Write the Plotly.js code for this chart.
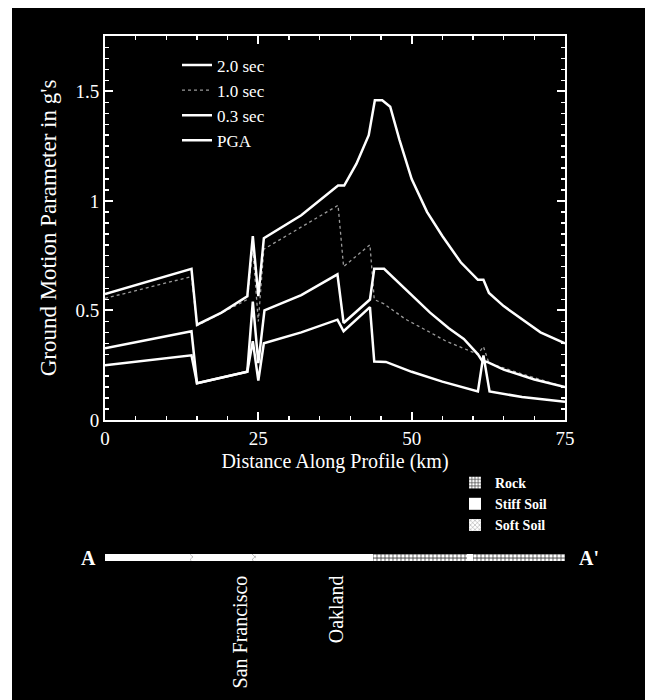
<!DOCTYPE html>
<html><head><meta charset="utf-8">
<script src="https://cdn.plot.ly/plotly-3.0.1.min.js"></script>
<style>
html,body{margin:0;padding:0;background:#fff;width:651px;height:700px;overflow:hidden}
#chart{position:absolute;left:12px;top:8px;width:633px;height:692px}
</style></head><body><div id="chart"></div>
<script>
// ---- data ----
const seriesNames = ['2.0 sec', '1.0 sec', '0.3 sec', 'PGA'];

const x20 = [0, 14.1, 15.0, 23.2, 24.1, 25.0, 25.9, 32, 37.9, 38.9, 43.2, 43.9, 45.8, 50, 55, 60.8, 61.7, 62.7, 68, 75];
const y20 = [0.25, 0.295, 0.168, 0.22, 0.36, 0.18, 0.35, 0.40, 0.458, 0.405, 0.515, 0.267, 0.265, 0.22, 0.175, 0.13, 0.295, 0.13, 0.105, 0.083];

const x10 = [0, 14.1, 15.0, 23.2, 24.1, 25.0, 25.9, 38.0, 38.9, 43.2, 43.9, 45.5, 47, 49, 53, 55.6, 60.8, 61.7, 62.6, 68, 75];
const y10 = [0.555, 0.655, 0.43, 0.55, 0.78, 0.45, 0.78, 0.98, 0.70, 0.80, 0.55, 0.53, 0.50, 0.46, 0.40, 0.36, 0.30, 0.335, 0.26, 0.21, 0.15];

const x03 = [0, 14.1, 15.0, 19, 23.2, 24.1, 25.0, 25.9, 32, 38.0, 39.0, 41.0, 43.0, 44.0, 45.2, 46.5, 48, 50, 52.5, 55, 58, 60.8, 61.7, 62.6, 65, 68, 71, 75];
const y03 = [0.575, 0.69, 0.435, 0.49, 0.565, 0.84, 0.565, 0.83, 0.935, 1.07, 1.07, 1.17, 1.30, 1.46, 1.46, 1.43, 1.28, 1.10, 0.95, 0.84, 0.72, 0.64, 0.64, 0.58, 0.52, 0.46, 0.40, 0.35];

const xPGA = [0, 14.1, 15.0, 23.2, 24.1, 25.0, 26.0, 32, 37.9, 38.9, 43.2, 43.9, 45.5, 47, 50, 53, 56, 58.5, 60.8, 61.5, 62.3, 65, 70, 75];
const yPGA = [0.328, 0.405, 0.168, 0.22, 0.54, 0.26, 0.50, 0.57, 0.665, 0.443, 0.55, 0.69, 0.69, 0.65, 0.57, 0.49, 0.42, 0.37, 0.30, 0.27, 0.265, 0.23, 0.185, 0.15];

const xTicks = [0, 25, 50, 75];
const yTicks = [0, 0.5, 1, 1.5];
const yTickText = ['0', '0.5', '1', '1.5'];

// soil profile along A-A' (km start, km length)
const soilTypes = ['Rock', 'Stiff Soil', 'Soft Soil'];
const rockStart = [43.7, 60];
const rockLen = [15.3, 15];
const stiffStart = [0, 14.4, 24.7, 59];
const stiffLen = [13.9, 9.5, 19.0, 1];
const softStart = [13.9, 23.9];
const softLen = [0.5, 0.8];

const cityNames = ['San Francisco', 'Oakland'];
const cityKm = [22.0, 37.7];
const profileEnds = ['A', "A'"];

// ---- chart ----
const SERIF = 'Liberation Serif, Times New Roman, serif';
const W = 'white';

const traces = [
  {x: x20, y: y20, name: seriesNames[0], mode: 'lines', line: {color: W, width: 2.5}},
  {x: x10, y: y10, name: seriesNames[1], mode: 'lines', line: {color: '#9a9a9a', width: 1.3, dash: 'dot'}},
  {x: x03, y: y03, name: seriesNames[2], mode: 'lines', line: {color: W, width: 2.5}},
  {x: xPGA, y: yPGA, name: seriesNames[3], mode: 'lines', line: {color: W, width: 2.5}},
  {type: 'bar', orientation: 'h', name: soilTypes[0], legend: 'legend2', xaxis: 'x2', yaxis: 'y2',
   y: rockStart.map(() => 0), x: rockLen, base: rockStart, width: 1,
   marker: {color: '#8a8a8a', line: {width: 0}, pattern: {shape: '.', fgcolor: '#ffffff', bgcolor: '#7a7a7a', size: 4, solidity: 0.5}}},
  {type: 'bar', orientation: 'h', name: soilTypes[1], legend: 'legend2', xaxis: 'x2', yaxis: 'y2',
   y: stiffStart.map(() => 0), x: stiffLen, base: stiffStart, width: 1,
   marker: {color: '#ffffff', line: {width: 0}}},
  {type: 'bar', orientation: 'h', name: soilTypes[2], legend: 'legend2', xaxis: 'x2', yaxis: 'y2',
   y: softStart.map(() => 0), x: softLen, base: softStart, width: 1,
   marker: {color: '#ffffff', line: {width: 0}, pattern: {shape: 'x', fgcolor: '#666666', bgcolor: '#ffffff', size: 4, solidity: 0.2}}}
];

const f = py => (600 - py) / 564;   // page y -> paper fraction
const fx = px => (px - 105) / 460;  // page x -> paper fraction

const axisCommon = {
  showgrid: false, zeroline: false, showline: true, linecolor: W, linewidth: 2,
  mirror: 'ticks', ticks: 'inside', ticklen: 8, tickwidth: 2, tickcolor: W,
  tickfont: {family: SERIF, size: 19, color: W}
};

const layout = {
  width: 633, height: 692,
  paper_bgcolor: 'black', plot_bgcolor: 'black',
  margin: {l: 93, r: 80, t: 28, b: 100},
  showlegend: true,
  barmode: 'overlay', bargap: 0,
  font: {family: SERIF, color: W},
  xaxis: Object.assign({}, axisCommon, {
    domain: [0, 1], range: [0, 75], anchor: 'y', tickvals: xTicks,
    minor: {dtick: 5, ticks: 'inside', ticklen: 4, tickwidth: 1.5, tickcolor: W},
    title: {text: 'Distance Along Profile (km)', font: {family: SERIF, size: 20, color: W}, standoff: 6}
  }),
  yaxis: Object.assign({}, axisCommon, {
    domain: [f(420), 1], range: [0, 1.753], anchor: 'x', tickvals: yTicks, ticktext: yTickText,
    minor: {dtick: 0.05, ticks: 'inside', ticklen: 4, tickwidth: 1.5, tickcolor: W},
    title: {text: "Ground Motion Parameter in g's", font: {family: SERIF, size: 23, color: W}, standoff: 12}
  }),
  xaxis2: {domain: [0, 1], range: [0, 75], anchor: 'y2', visible: false, fixedrange: true},
  yaxis2: {domain: [f(561), f(554)], range: [-0.5, 0.5], anchor: 'x2', visible: false, fixedrange: true},
  legend: {x: fx(177), xanchor: 'left', y: f(103), yanchor: 'middle',
           bgcolor: 'rgba(0,0,0,0)', font: {family: SERIF, size: 17, color: W}},
  legend2: {x: fx(455), xanchor: 'left', y: f(504), yanchor: 'middle',
            bgcolor: 'rgba(0,0,0,0)', font: {family: SERIF, size: 14, color: W, weight: 'bold'}},
  annotations: [
    {text: profileEnds[0], xref: 'paper', yref: 'paper', x: fx(88), y: f(558), xanchor: 'center', yanchor: 'middle',
     showarrow: false, font: {family: SERIF, size: 20, color: W, weight: 'bold'}},
    {text: profileEnds[1], xref: 'paper', yref: 'paper', x: fx(589), y: f(558), xanchor: 'center', yanchor: 'middle',
     showarrow: false, font: {family: SERIF, size: 20, color: W, weight: 'bold'}}
  ].concat(cityNames.map((c, i) => ({
    text: c, xref: 'x', yref: 'paper', x: cityKm[i], y: f(573), xanchor: 'center', yanchor: 'top',
    textangle: -90, showarrow: false, font: {family: SERIF, size: 20, color: W}
  })))
};

Plotly.newPlot('chart', traces, layout, {displayModeBar: false, staticPlot: true});
</script></body></html>
